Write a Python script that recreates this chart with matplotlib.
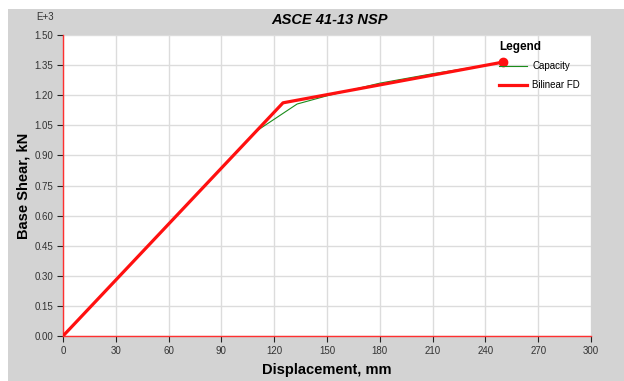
import matplotlib
matplotlib.use("Agg")
import matplotlib.pyplot as plt
from matplotlib.patches import Rectangle
from matplotlib.ticker import FormatStrFormatter

plt.rcParams['font.family'] = ['Liberation Sans', 'DejaVu Sans']

# pushover capacity curve (displacement mm, base shear kN x 1e3)
cap_disp = [0, 110, 133, 150, 180, 210, 240, 250]
cap_shear = [0.0, 1.022, 1.156, 1.197, 1.260, 1.307, 1.349, 1.362]

# bilinear force-displacement
bil_disp = [0, 125, 250]
bil_shear = [0.0, 1.162, 1.365]

xticks = list(range(0, 301, 30))
yticks = [0.0, 0.15, 0.30, 0.45, 0.60, 0.75, 0.90, 1.05, 1.20, 1.35, 1.50]

fig = plt.figure(figsize=(6.24, 3.81), dpi=100)
fig.patches.append(Rectangle((8/624, 0), 1, 372/381, transform=fig.transFigure,
                             facecolor="#d3d3d3", edgecolor="none", zorder=-10))

ax = fig.add_axes([63/624, 45/381, 528/624, 301/381])
ax.set_facecolor("white")

ax.plot(cap_disp, cap_shear, color="#1a8c1a", lw=0.8, label="Capacity", zorder=3)
ax.plot(bil_disp, bil_shear, color="#ff1010", lw=2.3, label="Bilinear FD", zorder=4)
ax.plot(bil_disp[-1], bil_shear[-1], "o", color="#ff1010", ms=6, zorder=5)

ax.set_xlim(0, 300)
ax.set_ylim(0, 1.5)
ax.set_xticks(xticks)
ax.set_yticks(yticks)
ax.yaxis.set_major_formatter(FormatStrFormatter("%.2f"))
ax.grid(True, color="#dcdcdc", lw=1.0)
ax.set_axisbelow(True)

for s in ("top", "right"):
    ax.spines[s].set_visible(False)
for s in ("left", "bottom"):
    ax.spines[s].set_color("#ff3030")
    ax.spines[s].set_linewidth(1.0)
ax.tick_params(length=4, width=0.8, color="#222222", labelsize=7,
               labelcolor="#333333", pad=3)

ax.set_xlabel("Displacement, mm", fontsize=10.5, fontweight="bold", labelpad=5)
ax.set_ylabel("Base Shear, kN", fontsize=10.5, fontweight="bold", labelpad=3)
fig.text(330/624, 1 - 20/381, "ASCE 41-13 NSP", fontsize=10.5, fontweight="bold",
         fontstyle="italic", ha="center", va="center")
fig.text(45/624, 1 - 17/381, "E+3", fontsize=7, color="#333333",
         ha="center", va="center")

leg = ax.legend(loc="upper left", bbox_to_anchor=(0.81, 1.01), frameon=False,
                fontsize=7, title="Legend", handlelength=2.8, handletextpad=0.6,
                labelspacing=0.9, alignment="left")
leg.get_title().set_fontweight("bold")
leg.get_title().set_fontsize(8.5)

fig.savefig("out.png", dpi=100)
